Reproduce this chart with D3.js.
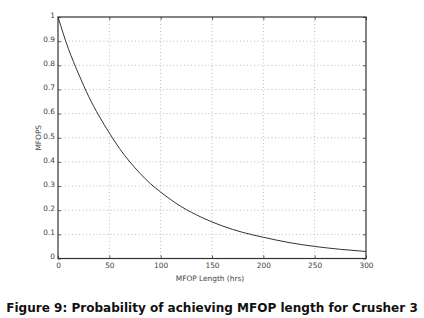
<!DOCTYPE html>
<html>
<head>
<meta charset="utf-8">
<script src="https://cdn.jsdelivr.net/npm/d3@7"></script>
<style>
  body { margin: 0; background: #fff; overflow: hidden; }
  svg { display: block; }
  .tick text { font-family: "DejaVu Sans", sans-serif; font-size: 7.4px; fill: #444; }
  .label { font-family: "DejaVu Sans", sans-serif; font-size: 7.4px; fill: #444; }
  .caption { font-family: "DejaVu Sans", sans-serif; font-weight: bold; font-size: 12.5px; fill: #111; }
</style>
</head>
<body>
<div id="chart"></div>
<script>
// MFOP length (hrs) and survival probability
const hours = [0, 10, 20, 30, 40, 50, 60, 70, 80, 90, 100, 120, 140, 160, 180, 200, 225, 250, 275, 300];
const mfops = [1.0, 0.87, 0.765, 0.67, 0.59, 0.52, 0.455, 0.4, 0.352, 0.31, 0.275, 0.215, 0.17, 0.135,
  0.108, 0.088, 0.066, 0.05, 0.038, 0.029];
const xTicks = [0, 50, 100, 150, 200, 250, 300];
const yTicks = [0, 0.1, 0.2, 0.3, 0.4, 0.5, 0.6, 0.7, 0.8, 0.9, 1];

const width = 424, height = 318;
const margin = { top: 17, right: 58, bottom: 59.5, left: 58 };
const innerWidth = width - margin.left - margin.right,
    innerHeight = height - margin.top - margin.bottom;

const svg = d3.select("#chart").append("svg")
    .attr("width", width)
    .attr("height", height);

const g = svg.append("g")
    .attr("transform", "translate(" + margin.left + "," + margin.top + ")");

const xScale = d3.scaleLinear().domain([0, 300]).range([0, innerWidth]);
const yScale = d3.scaleLinear().domain([0, 1]).range([innerHeight, 0]);

// dotted grid
g.append("g").selectAll("line").data(xTicks.slice(1, -1)).enter().append("line")
    .attr("x1", d => xScale(d)).attr("x2", d => xScale(d))
    .attr("y1", 0).attr("y2", innerHeight)
    .attr("stroke", "#aaa").attr("stroke-width", 0.8).attr("stroke-dasharray", "1,2.5");
g.append("g").selectAll("line").data(yTicks.slice(1, -1)).enter().append("line")
    .attr("y1", d => yScale(d)).attr("y2", d => yScale(d))
    .attr("x1", 0).attr("x2", innerWidth)
    .attr("stroke", "#aaa").attr("stroke-width", 0.8).attr("stroke-dasharray", "1,2.5");

// axes, ticks pointing inward
const xAxis = g.append("g").attr("class", "x axis")
    .attr("transform", "translate(0," + innerHeight + ")")
    .call(d3.axisBottom(xScale).tickValues(xTicks).tickSizeInner(-3).tickSizeOuter(0).tickPadding(4));
xAxis.selectAll("text").attr("dy", "0.71em");

const yAxis = g.append("g").attr("class", "y axis")
    .call(d3.axisLeft(yScale).tickValues(yTicks).tickFormat(d3.format("")).tickSizeInner(-3).tickSizeOuter(0).tickPadding(3));
yAxis.selectAll("text").attr("dy", "0.05em");

g.append("g")
    .call(d3.axisTop(xScale).tickValues(xTicks).tickSizeInner(-3).tickSizeOuter(0).tickFormat(""));
g.append("g")
    .attr("transform", "translate(" + innerWidth + ",0)")
    .call(d3.axisRight(yScale).tickValues(yTicks).tickSizeInner(-3).tickSizeOuter(0).tickFormat(""));

g.selectAll(".domain").remove();
g.selectAll(".tick line").attr("stroke", "#333").attr("stroke-width", 0.8);

// frame
g.append("rect")
    .attr("width", innerWidth).attr("height", innerHeight)
    .attr("fill", "none").attr("stroke", "#333").attr("stroke-width", 1.2);

// curve
const line = d3.line()
    .x((d, i) => xScale(hours[i]))
    .y(d => yScale(d))
    .curve(d3.curveMonotoneX);

g.append("path")
    .datum(mfops)
    .attr("fill", "none")
    .attr("stroke", "#333")
    .attr("stroke-width", 1)
    .attr("d", line);

// labels
svg.append("text").attr("class", "label")
    .attr("x", margin.left + innerWidth / 2 - 2).attr("y", 281)
    .attr("text-anchor", "middle")
    .text("MFOP Length (hrs)");

svg.append("text").attr("class", "label")
    .attr("transform", "translate(41," + (margin.top + innerHeight / 2) + ") rotate(-90)")
    .attr("text-anchor", "middle")
    .text("MFOPS");

// caption, font size fitted to the width it spans in the figure
const caption = svg.append("text").attr("class", "caption")
    .attr("x", width / 2).attr("y", 312)
    .attr("text-anchor", "middle")
    .text("Figure 9: Probability of achieving MFOP length for Crusher 3");
const capLen = caption.node().getComputedTextLength();
caption.style("font-size", (12.5 * 412 / capLen).toFixed(2) + "px");
</script>
</body>
</html>
